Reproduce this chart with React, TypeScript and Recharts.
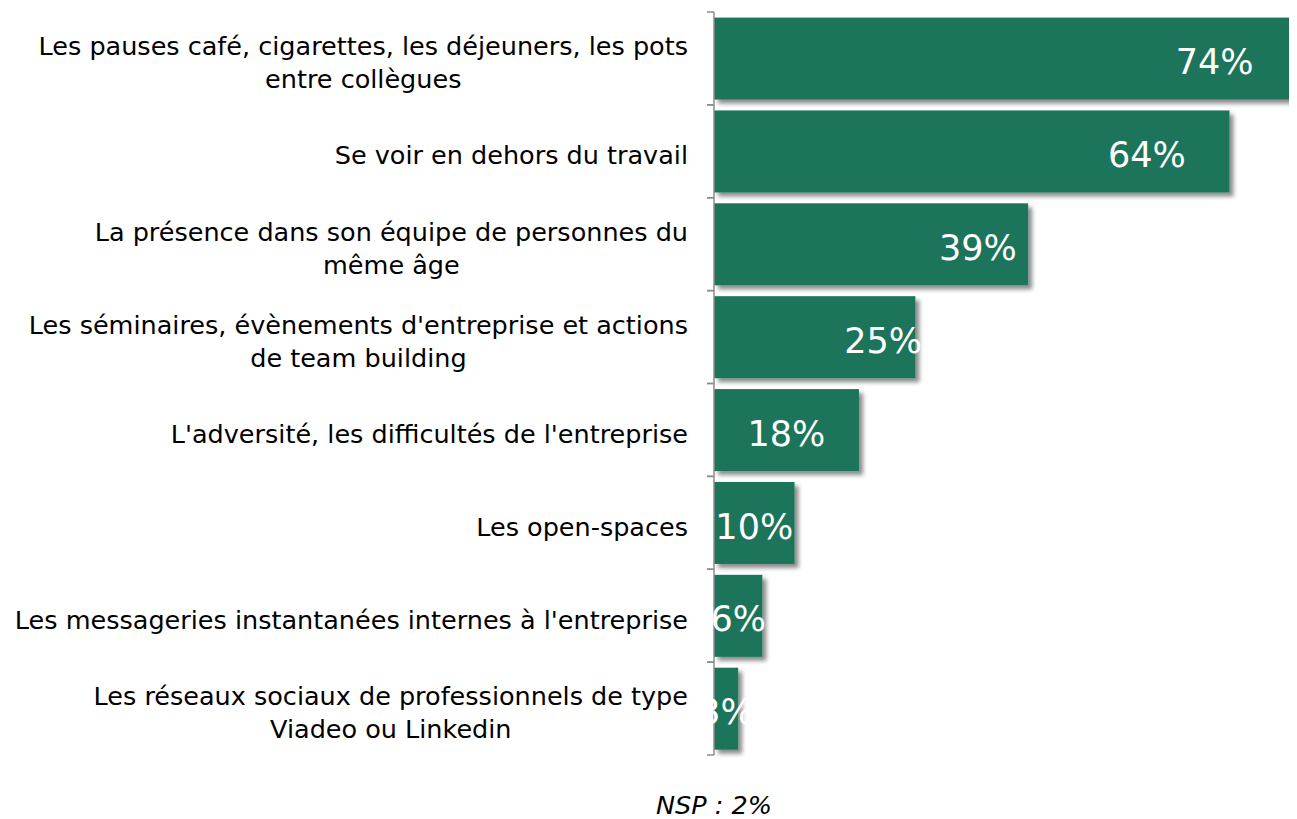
import React from 'react';
import { BarChart, Bar, XAxis, YAxis, LabelList } from 'recharts';

const categories: string[] = [
  "Les pauses café, cigarettes, les déjeuners, les pots\nentre collègues",
  "Se voir en dehors du travail",
  "La présence dans son équipe de personnes du\nmême âge",
  "Les séminaires, évènements d'entreprise et actions\nde team building",
  "L'adversité, les difficultés de l'entreprise",
  "Les open-spaces",
  "Les messageries instantanées internes à l'entreprise",
  "Les réseaux sociaux de professionnels de type\nViadeo ou Linkedin",
];
const values: number[] = [74, 64, 39, 25, 18, 10, 6, 3];
const footnote = "NSP : 2%";

const data = categories.map((c, i) => ({ category: c, value: values[i] }));

const FONT = "'DejaVu Sans', sans-serif";
const GREEN = '#1b755a';
const AXIS_COLOR = '#8c8c8c';
const CHART_W = 1302;
const CHART_H = 811;
const MARGIN = { top: 4, right: 0, bottom: 0, left: 0 };
const Y_AXIS_W = 706;
const X_AXIS_H = 64;
const PLOT_H = CHART_H - MARGIN.top - MARGIN.bottom - X_AXIS_H;
const BAND = PLOT_H / categories.length;
const CAT_FONT = 25.5;
const VAL_FONT = 35;
const LINE_H = 33;
const LABEL_GAP = 26;

let ctx: CanvasRenderingContext2D | null = null;
function measure(text: string, size: number): number {
  if (!ctx) {
    const c = document.createElement('canvas');
    ctx = c.getContext('2d');
  }
  if (!ctx) return text.length * size * 0.5;
  ctx.font = `${size}px ${FONT}`;
  return ctx.measureText(text).width;
}

const CategoryTick = (props: any) => {
  const { y, payload } = props;
  const axisX = MARGIN.left + Y_AXIS_W;
  const lines = String(payload.value).split('\n');
  const widths = lines.map((l) => measure(l, CAT_FONT));
  const maxW = Math.max(...widths);
  const right = axisX - LABEL_GAP;
  const cx = right - maxW / 2;
  const blockCenter = y + 4;
  return (
    <g>
      <line x1={axisX - 7} x2={axisX} y1={y - BAND / 2} y2={y - BAND / 2} stroke={AXIS_COLOR} strokeWidth={1.5} />
      <line x1={axisX - 7} x2={axisX} y1={y + BAND / 2} y2={y + BAND / 2} stroke={AXIS_COLOR} strokeWidth={1.5} />
      {lines.map((l, i) => (
        <text
          key={i}
          x={cx}
          y={blockCenter + (i - (lines.length - 1) / 2) * LINE_H + CAT_FONT * 0.36}
          textAnchor="middle"
          fontFamily={FONT}
          fontSize={CAT_FONT}
          fill="#000"
        >
          {l}
        </text>
      ))}
    </g>
  );
};

const ShadowBar = (props: any) => {
  const { x, y, width, height, index } = props;
  const id = `bar-shadow-${index}`;
  return (
    <g>
      <defs>
        <filter id={id} x="-20%" y="-20%" width="150%" height="150%">
          <feDropShadow dx="4" dy="4" stdDeviation="2" floodColor="#000" floodOpacity="0.45" />
        </filter>
      </defs>
      <rect x={x} y={y} width={width} height={height} fill={GREEN} filter={`url(#${id})`} />
    </g>
  );
};

const ValueLabel = (props: any) => {
  const { x, y, width, height, value } = props;
  const cx = width > 150 ? x + width * 0.84 : x + width / 2;
  return (
    <text
      x={cx}
      y={y + height / 2 + 3 + VAL_FONT * 0.36}
      textAnchor="middle"
      fill="#fff"
      fontSize={VAL_FONT}
      fontFamily={FONT}
    >
      {`${value}%`}
    </text>
  );
};

const FootLabel = (props: any) => {
  const { viewBox } = props;
  return (
    <text
      x={viewBox.x}
      y={viewBox.y + 50 + CAT_FONT * 0.36}
      textAnchor="middle"
      fontFamily={FONT}
      fontSize={CAT_FONT}
      fontStyle="italic"
      fill="#000"
    >
      {footnote}
    </text>
  );
};

export default function App() {
  return (
    <div style={{ width: 1289, height: 811, overflow: 'hidden' }}>
      <BarChart
        width={CHART_W}
        height={CHART_H}
        data={data}
        layout="vertical"
        margin={MARGIN}
        barCategoryGap="6%"
      >
        <XAxis
          type="number"
          domain={[0, 74]}
          axisLine={false}
          tickLine={false}
          tick={false}
          height={X_AXIS_H}
          label={<FootLabel />}
        />
        <YAxis
          type="category"
          dataKey="category"
          width={Y_AXIS_W}
          axisLine={{ stroke: AXIS_COLOR, strokeWidth: 1.5 }}
          tickLine={false}
          tick={<CategoryTick />}
          interval={0}
        />
        <Bar dataKey="value" shape={<ShadowBar />} isAnimationActive={false}>
          <LabelList dataKey="value" content={<ValueLabel />} />
        </Bar>
      </BarChart>
    </div>
  );
}
